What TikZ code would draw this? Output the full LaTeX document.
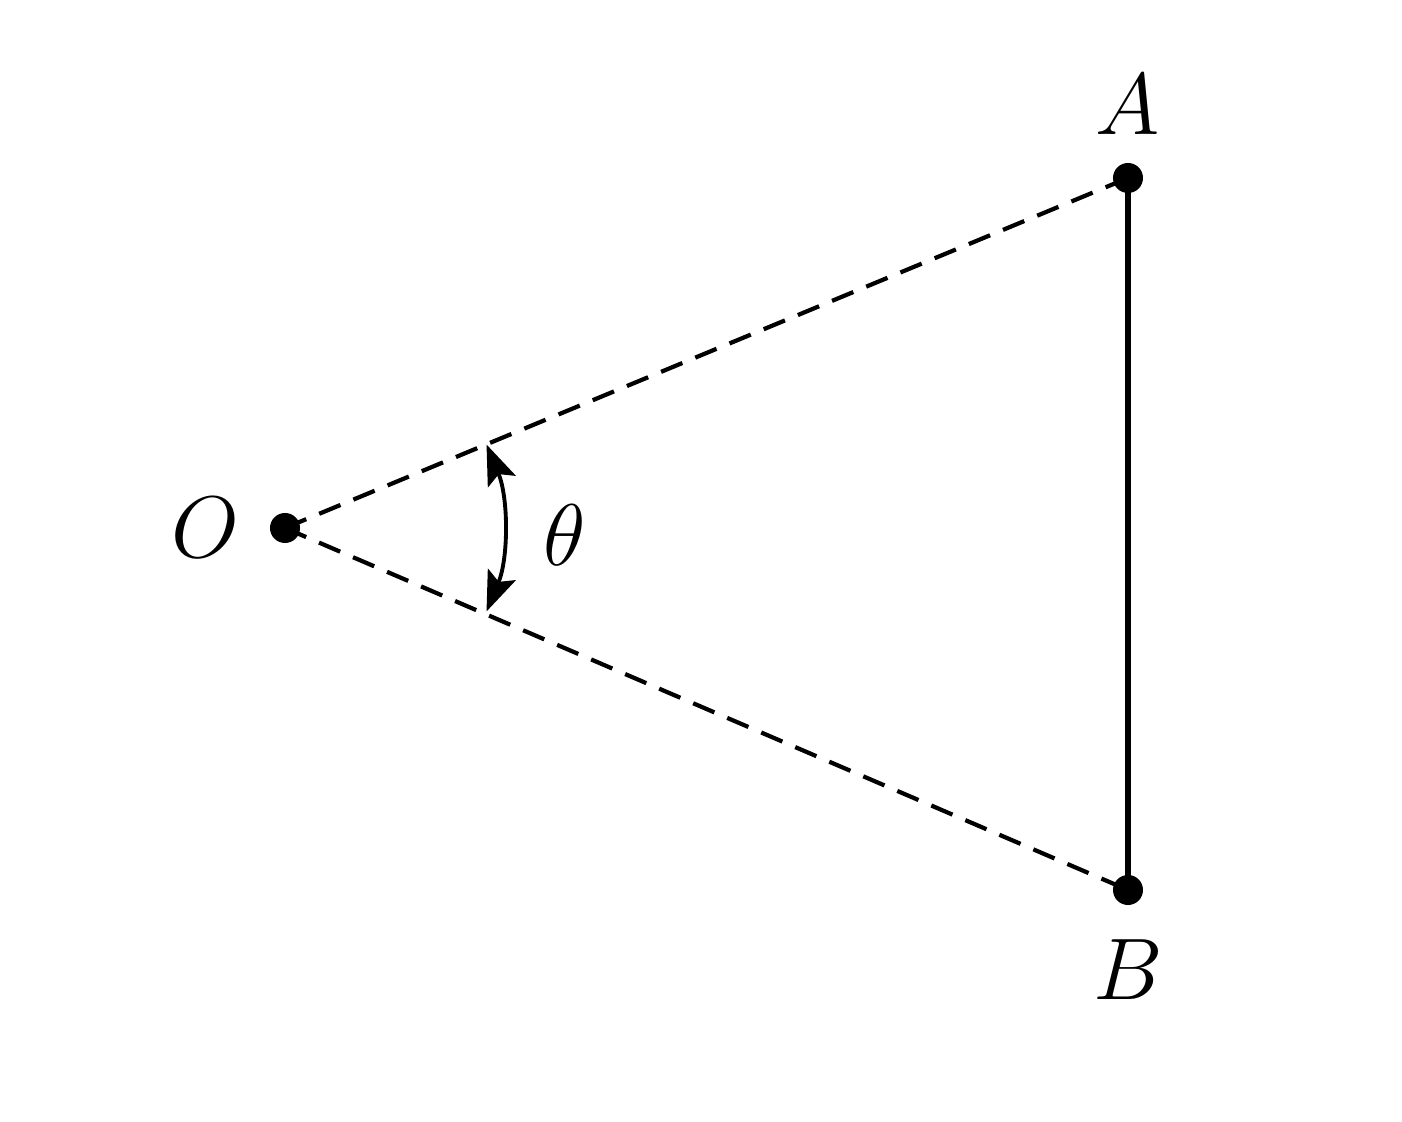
\documentclass[tikz,border=0pt]{standalone}
\usepackage{amssymb, amsmath}
\usetikzlibrary{arrows.meta, calc}

\begin{document}
\begin{tikzpicture}[x=0.01cm, y=-0.01cm, line width=1.2pt,
  font=\fontsize{23}{28}\selectfont]

  \useasboundingbox (0, 0) rectangle (1402, 1122);

  \coordinate (O) at (285, 528);
  \coordinate (A) at (1128, 178);
  \coordinate (B) at (1128, 890);

  \draw[dashed, dash pattern=on 0.23cm off 0.14cm] (O) -- (A);
  \draw[dashed, dash pattern=on 0.23cm off 0.14cm] (O) -- (B);
  \draw[line width=1.5pt] (A) -- (B);

  \draw[line width=1.1pt,
    {Stealth[length=0.4cm, width=0.3cm, inset=0.08cm]}-{Stealth[length=0.4cm, width=0.3cm, inset=0.08cm]}]
    ($(O) + (22.5:2.18cm)$) arc (22.5:-22.5:2.18cm);

  \foreach \p in {O, A, B} {
    \fill (\p) circle (0.15cm);
  }

  \node (labA) at (1128, 105) {$A$};
  \node (labB) at (1128, 970) {$B$};
  \node (labO) at (205, 528) {$O$};
  \node (labT) at (565, 535) {$\theta$};

\end{tikzpicture}
\end{document}
